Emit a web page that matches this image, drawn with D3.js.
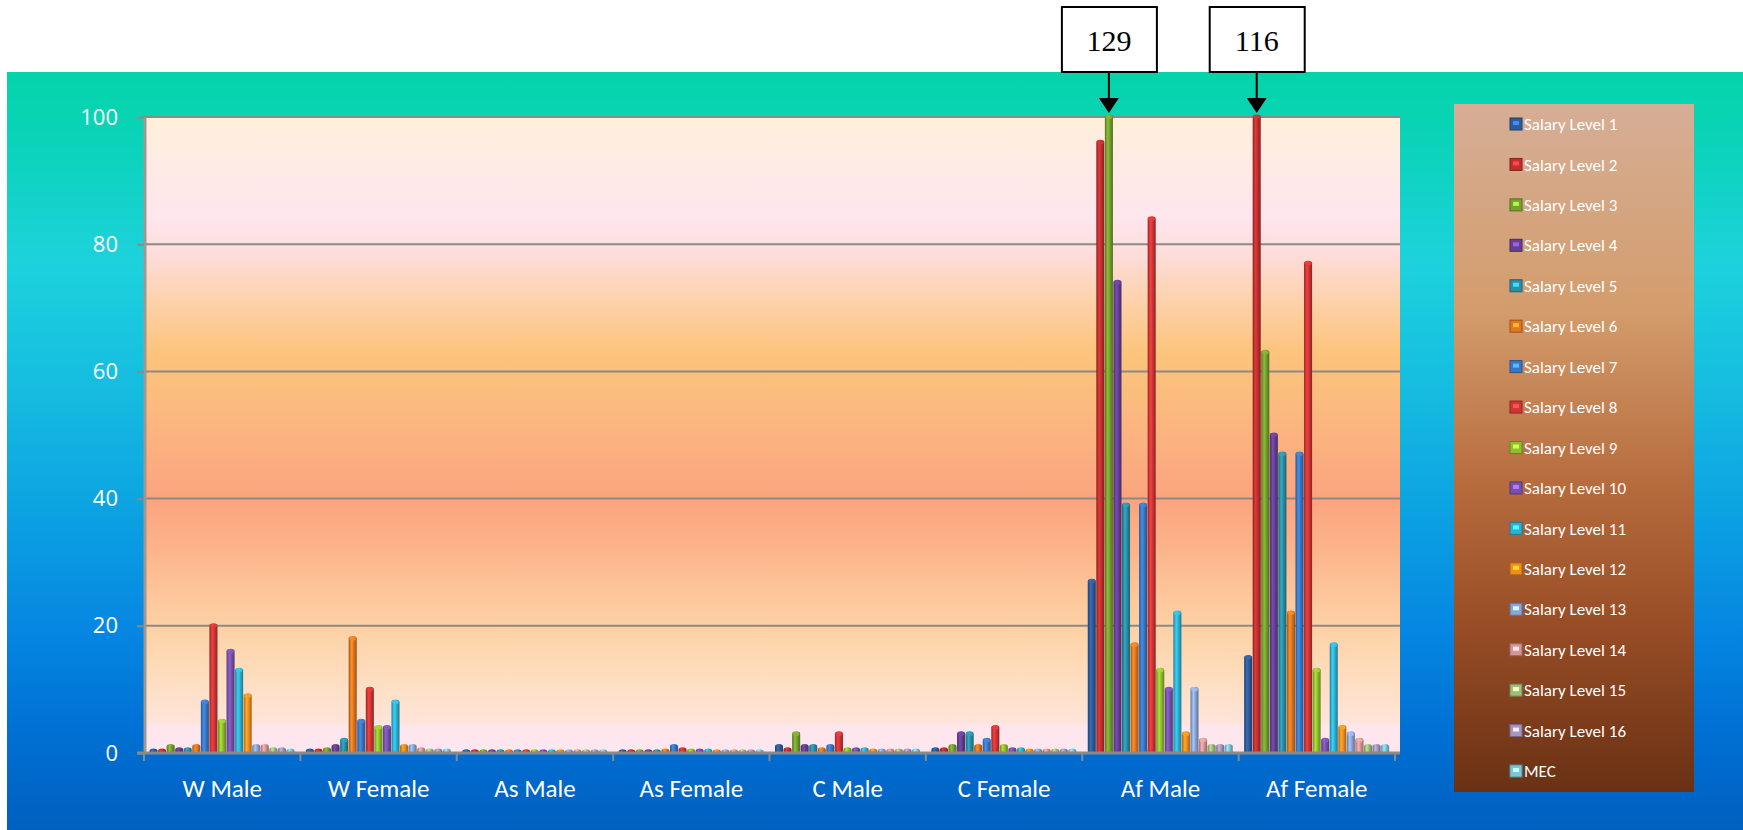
<!DOCTYPE html>
<html>
<head>
<meta charset="utf-8">
<script src="https://cdn.jsdelivr.net/npm/d3@7"></script>
<style>
  html, body { margin: 0; padding: 0; background: #fff; }
  svg { display: block; }
</style>
</head>
<body>
<div id="chart"></div>
<script>
const categories = ["W Male", "W Female", "As Male", "As Female", "C Male", "C Female", "Af Male", "Af Female"];
const seriesNames = ["Salary Level 1", "Salary Level 2", "Salary Level 3", "Salary Level 4", "Salary Level 5",
  "Salary Level 6", "Salary Level 7", "Salary Level 8", "Salary Level 9", "Salary Level 10", "Salary Level 11",
  "Salary Level 12", "Salary Level 13", "Salary Level 14", "Salary Level 15", "Salary Level 16", "MEC"];
// one row per series, one value per category
const values = [
  [0.3, 0.3, 0.2, 0.2, 1, 0.5, 27, 15],
  [0.3, 0.3, 0.2, 0.2, 0.5, 0.5, 96, 116],
  [1, 0.5, 0.2, 0.2, 3, 1, 129, 63],
  [0.5, 1, 0.2, 0.2, 1, 3, 74, 50],
  [0.5, 2, 0.2, 0.2, 1, 3, 39, 47],
  [1, 18, 0.2, 0.3, 0.5, 1, 17, 22],
  [8, 5, 0.2, 1, 1, 2, 39, 47],
  [20, 10, 0.2, 0.5, 3, 4, 84, 77],
  [5, 4, 0.2, 0.3, 0.5, 1, 13, 13],
  [16, 4, 0.2, 0.3, 0.5, 0.5, 10, 2],
  [13, 8, 0.2, 0.3, 0.5, 0.5, 22, 17],
  [9, 1, 0.2, 0.2, 0.3, 0.3, 3, 4],
  [1, 1, 0.2, 0.2, 0.3, 0.3, 10, 3],
  [1, 0.5, 0.2, 0.2, 0.3, 0.3, 2, 2],
  [0.5, 0.3, 0.2, 0.2, 0.3, 0.3, 1, 1],
  [0.5, 0.3, 0.2, 0.2, 0.3, 0.3, 1, 1],
  [0.3, 0.3, 0.2, 0.2, 0.3, 0.3, 1, 1]
];
const colors = ["#2d5b9b", "#bf2f2f", "#75a02f", "#653f95", "#2a8ea6", "#e0771f", "#3878c6", "#cf3535",
  "#8fbf2e", "#7650ad", "#2fb0d2", "#f08e1e", "#8aa6d6", "#d69696", "#9fbd7e", "#a596c0", "#7ec6d6"];
const yTicks = [0, 20, 40, 60, 80, 100];
// bars that run off the top of the axis, with their real values
const callouts = [
  { category: "Af Male", series: "Salary Level 3", label: "129" },
  { category: "Af Female", series: "Salary Level 2", label: "116" }
];

const W = 1743, H = 830;
const plot = { left: 144, right: 1395, top: 117, bottom: 753 };
const font = "Carlito, Calibri, 'Open Sans', sans-serif";

const svg = d3.select("#chart").append("svg")
  .attr("width", W).attr("height", H)
  .attr("xmlns", "http://www.w3.org/2000/svg");
const defs = svg.append("defs");

// outer background
const bg = defs.append("linearGradient").attr("id", "bg")
  .attr("x1", 0).attr("y1", 0).attr("x2", 0).attr("y2", 1);
[[0, "#04d4a9"], [0.12, "#0dd3bf"], [0.25, "#1dd2dc"], [0.42, "#15bce0"], [0.58, "#0ca2e2"],
 [0.74, "#0586e2"], [0.87, "#0070d4"], [1, "#0060c0"]]
  .forEach(([o, c]) => bg.append("stop").attr("offset", o).attr("stop-color", c));
svg.append("rect").attr("x", 7).attr("y", 72).attr("width", W - 7).attr("height", H - 72)
  .attr("fill", "url(#bg)");

const x0 = d3.scaleBand().domain(categories).range([plot.left, plot.right]);
const x1 = d3.scaleBand().domain(seriesNames).range([5.5, 150.5]).paddingInner(0.06);
const y = d3.scaleLinear().domain([0, 100]).range([plot.bottom, plot.top]).clamp(true);

// plot area gradient
const pg = defs.append("linearGradient").attr("id", "pg")
  .attr("x1", 0).attr("y1", 0).attr("x2", 0).attr("y2", 1);
[[100, "#fff0da"], [92, "#feeae6"], [84, "#fee6ee"], [78, "#fddcd8"], [70, "#fdd0a4"], [63, "#fcc47c"],
 [55, "#fbbb7e"], [46, "#fbad80"], [40, "#fba47e"], [32, "#fcb48a"], [25, "#fdc69a"], [18, "#fdd4aa"],
 [10, "#fee0c6"], [5, "#fee4da"], [0, "#ffe6ef"]]
  .forEach(([v, c]) => pg.append("stop").attr("offset", (100 - v) / 100).attr("stop-color", c));
svg.append("rect").attr("x", plot.left).attr("y", plot.top)
  .attr("width", plot.right + 5 - plot.left).attr("height", plot.bottom - plot.top)
  .attr("fill", "url(#pg)");

// pale band near the floor
svg.append("rect").attr("x", plot.left).attr("y", y(4.5))
  .attr("width", plot.right + 5 - plot.left).attr("height", y(0) - y(4.5))
  .attr("fill", "#fde6ef").attr("opacity", 0.85);

// gridlines
svg.append("g").selectAll("line").data(yTicks.filter(d => d > 0)).join("line")
  .attr("x1", plot.left).attr("x2", plot.right + 5)
  .attr("y1", d => y(d)).attr("y2", d => y(d))
  .attr("stroke", "#8c8a88").attr("stroke-width", 2);

// left wall edge
svg.append("line").attr("x1", plot.left + 1).attr("x2", plot.left + 1)
  .attr("y1", plot.top).attr("y2", plot.bottom)
  .attr("stroke", "#a09890").attr("stroke-width", 3);

// y axis
const yAxis = svg.append("g").attr("transform", `translate(${plot.left},0)`)
  .call(d3.axisLeft(y).tickValues(yTicks).tickSize(7).tickPadding(19));
yAxis.select(".domain").remove();
yAxis.selectAll(".tick line").attr("stroke", "#8c8a88").attr("stroke-width", 2);
yAxis.selectAll(".tick text").attr("fill", "#fff").style("font-family", "'Open Sans', sans-serif").style("font-size", "22px");

// cylinder gradients
colors.forEach((c, j) => {
  const g = defs.append("linearGradient").attr("id", "cy" + j)
    .attr("x1", 0).attr("y1", 0).attr("x2", 1).attr("y2", 0);
  const base = d3.color(c);
  g.append("stop").attr("offset", 0).attr("stop-color", base.darker(0.9));
  g.append("stop").attr("offset", 0.35).attr("stop-color", base.brighter(0.5));
  g.append("stop").attr("offset", 0.6).attr("stop-color", base);
  g.append("stop").attr("offset", 1).attr("stop-color", base.darker(1.1));
});

const bars = [];
seriesNames.forEach((s, j) => categories.forEach((c, i) => bars.push({ s, j, c, v: values[j][i] })));

const bw = x1.bandwidth();
const ry = bw * 0.32;
const barG = svg.append("g");
barG.selectAll("path.bar").data(bars).join("path")
  .attr("class", "bar")
  .attr("d", d => {
    const bx = x0(d.c) + x1(d.s), top = y(d.v), base = y(0);
    return `M${bx},${base} V${top} A${bw / 2},${ry} 0 0 1 ${bx + bw},${top} V${base} Z`;
  })
  .attr("fill", d => `url(#cy${d.j})`);
barG.selectAll("ellipse").data(bars.filter(d => d.v > 1.5)).join("ellipse")
  .attr("cx", d => x0(d.c) + x1(d.s) + bw / 2)
  .attr("cy", d => y(d.v))
  .attr("rx", bw / 2 - 0.5).attr("ry", ry * 0.8)
  .attr("fill", d => d3.color(colors[d.j]).brighter(0.4))
  .attr("opacity", 0.8);

// x axis
const xAxis = svg.append("g").attr("transform", `translate(0,${plot.bottom})`)
  .call(d3.axisBottom(x0).tickSize(0).tickPadding(26));
xAxis.select(".domain").attr("stroke", "#8c8a88").attr("stroke-width", 3)
  .attr("d", `M${plot.left - 7},0H${plot.right + 5}`);
xAxis.selectAll(".tick text").attr("fill", "#fff").style("font-family", font).style("font-size", "25px");
svg.append("g").selectAll("line").data(d3.range(categories.length + 1)).join("line")
  .attr("x1", i => plot.left + i * x0.step()).attr("x2", i => plot.left + i * x0.step())
  .attr("y1", plot.bottom).attr("y2", plot.bottom + 8)
  .attr("stroke", "#8c8a88").attr("stroke-width", 2);

// legend
const lg = defs.append("linearGradient").attr("id", "lg")
  .attr("x1", 0).attr("y1", 0).attr("x2", 0).attr("y2", 1);
[[0, "#d6ae96"], [0.3, "#d39c6c"], [0.55, "#b76c3e"], [0.75, "#9a4e26"], [1, "#693114"]]
  .forEach(([o, c]) => lg.append("stop").attr("offset", o).attr("stop-color", c));
svg.append("rect").attr("x", 1454).attr("y", 104).attr("width", 240).attr("height", 688)
  .attr("fill", "url(#lg)");
const ly = d3.scalePoint().domain(seriesNames).range([124, 771]);
const li = svg.append("g").selectAll("g").data(seriesNames).join("g")
  .attr("transform", d => `translate(1510,${ly(d)})`);
li.append("rect").attr("x", 0).attr("y", -6).attr("width", 12).attr("height", 12)
  .attr("fill", (d, j) => colors[j]).attr("stroke", (d, j) => d3.color(colors[j]).darker(1)).attr("stroke-width", 1);
li.append("rect").attr("x", 3).attr("y", -3).attr("width", 6).attr("height", 4)
  .attr("fill", (d, j) => d3.color(colors[j]).brighter(1.2));
li.append("text").attr("x", 14).attr("y", 0).attr("dy", "0.36em")
  .attr("fill", "#fff").style("font-family", font).style("font-size", "17px")
  .text(d => d);

// callout boxes with arrows
const co = svg.append("g").selectAll("g").data(callouts).join("g");
co.each(function (d) {
  const g = d3.select(this);
  const cx = x0(d.category) + x1(d.series) + bw / 2;
  g.append("rect").attr("x", cx - 47).attr("y", 7).attr("width", 95).attr("height", 65)
    .attr("fill", "#fff").attr("stroke", "#000").attr("stroke-width", 2);
  g.append("text").attr("x", cx).attr("y", 40).attr("dy", "0.35em").attr("text-anchor", "middle")
    .style("font-family", "'Liberation Serif', 'Times New Roman', serif").style("font-size", "30px")
    .attr("fill", "#000").text(d.label);
  g.append("line").attr("x1", cx).attr("x2", cx).attr("y1", 72).attr("y2", 100)
    .attr("stroke", "#000").attr("stroke-width", 2);
  g.append("path").attr("d", `M${cx - 10},98 L${cx + 10},98 L${cx},113 Z`).attr("fill", "#000");
});
</script>
</body>
</html>
